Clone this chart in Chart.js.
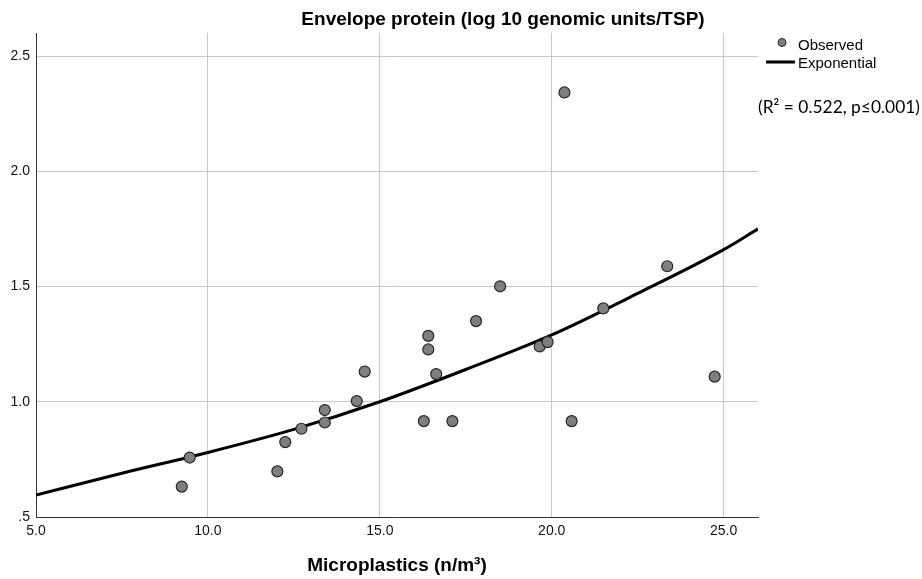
<!DOCTYPE html>
<html>
<head>
<meta charset="utf-8">
<script src="https://cdn.jsdelivr.net/npm/chart.js@4/dist/chart.umd.min.js"></script>
<style>
  html, body { margin: 0; padding: 0; background: #fff; }
  #wrap { width: 922px; height: 579px; position: relative; }
</style>
</head>
<body>
<div id="wrap"><canvas id="chart"></canvas></div>
<script>
// Observed samples: microplastics (n/m³) vs envelope protein (log10 GU/TSP)
const observedX = [9.24, 9.47, 12.02, 12.25, 12.72, 13.40, 13.40, 14.33, 14.56, 16.28, 16.41, 16.41,
  16.64, 17.11, 17.80, 18.50, 19.65, 19.88, 20.37, 20.58, 21.50, 23.36, 24.74];
const observedY = [0.632, 0.758, 0.698, 0.825, 0.883, 0.964, 0.910, 1.003, 1.131, 0.916, 1.286, 1.227,
  1.120, 0.916, 1.350, 1.501, 1.240, 1.259, 2.342, 0.916, 1.405, 1.588, 1.109];

// Fitted exponential curve
const curveX = [5, 7.5, 10, 12.5, 15, 17.5, 20, 22.5, 25, 26];
const curveY = [0.595, 0.69, 0.78, 0.88, 1.0, 1.14, 1.29, 1.47, 1.66, 1.75];

const xTicks = [5, 10, 15, 20, 25];
const yTicks = [0.5, 1.0, 1.5, 2.0, 2.5];

const chartTitle = 'Envelope protein (log 10 genomic units/TSP)';
const xTitle = 'Microplastics (n/m³)';
const legendLabels = ['Observed', 'Exponential'];
const fitNote = '(R² = 0.522, p≤0.001)';

const SANS = '"Liberation Sans", Arial, sans-serif';

const overlayPlugin = {
  id: 'overlay',
  afterDraw(chart) {
    const ctx = chart.ctx;
    ctx.save();
    ctx.fillStyle = '#000';
    ctx.textBaseline = 'middle';

    ctx.font = `bold 19px ${SANS}`;
    ctx.textAlign = 'center';
    ctx.fillText(chartTitle, 503, 20);

    // legend
    ctx.textAlign = 'left';
    ctx.font = `15px ${SANS}`;
    ctx.beginPath();
    ctx.arc(782, 42.5, 4, 0, Math.PI * 2);
    ctx.fillStyle = '#7f7f7f';
    ctx.fill();
    ctx.lineWidth = 1;
    ctx.strokeStyle = '#262626';
    ctx.stroke();
    ctx.fillStyle = '#000';
    ctx.fillText(legendLabels[0], 798, 46);

    ctx.beginPath();
    ctx.moveTo(766, 62);
    ctx.lineTo(795, 62);
    ctx.lineWidth = 3;
    ctx.strokeStyle = '#000';
    ctx.stroke();
    ctx.fillText(legendLabels[1], 798, 64);

    ctx.font = `18px Lato, "Open Sans", sans-serif`;
    ctx.fillText(fitNote, 758, 107, 162);
    ctx.restore();
  }
};

new Chart(document.getElementById('chart'), {
  type: 'scatter',
  data: {
    datasets: [
      {
        label: legendLabels[0],
        data: observedX.map((x, i) => ({ x, y: observedY[i] })),
        backgroundColor: '#7f7f7f',
        borderColor: '#262626',
        borderWidth: 1.2,
        pointRadius: 5.5,
        showLine: false
      },
      {
        label: legendLabels[1],
        data: curveX.map((x, i) => ({ x, y: curveY[i] })),
        borderColor: '#000',
        backgroundColor: '#000',
        borderWidth: 3,
        pointRadius: 0,
        showLine: true,
        cubicInterpolationMode: 'monotone'
      }
    ]
  },
  options: {
    responsive: true,
    maintainAspectRatio: false,
    animation: false,
    events: [],
    layout: { padding: { top: 33, right: 164, left: 0, bottom: 0 } },
    plugins: {
      legend: { display: false },
      tooltip: { enabled: false }
    },
    scales: {
      x: {
        type: 'linear',
        min: 5,
        max: 26,
        afterBuildTicks: (scale) => { scale.ticks = xTicks.map((value) => ({ value })); },
        afterFit: (scale) => { scale.height = 62; },
        ticks: {
          color: '#111',
          font: { family: SANS, size: 14 },
          padding: 6,
          maxRotation: 0,
          callback: (v) => v.toFixed(1)
        },
        grid: { color: '#c8c8c8', lineWidth: 1, drawTicks: false },
        border: { color: '#333', width: 1 },
        title: {
          display: true,
          text: xTitle,
          color: '#000',
          font: { family: SANS, size: 19, weight: 'bold' },
          padding: { top: 0, bottom: 2 }
        }
      },
      y: {
        type: 'linear',
        min: 0.5,
        max: 2.6,
        afterBuildTicks: (scale) => { scale.ticks = yTicks.map((value) => ({ value })); },
        afterFit: (scale) => { scale.width = 36; },
        ticks: {
          color: '#111',
          font: { family: SANS, size: 14 },
          padding: 6,
          callback: (v) => (v === 0.5 ? '.5' : v.toFixed(1))
        },
        grid: { color: '#c8c8c8', lineWidth: 1, drawTicks: false },
        border: { color: '#333', width: 1 }
      }
    }
  },
  plugins: [overlayPlugin]
});
</script>
</body>
</html>
